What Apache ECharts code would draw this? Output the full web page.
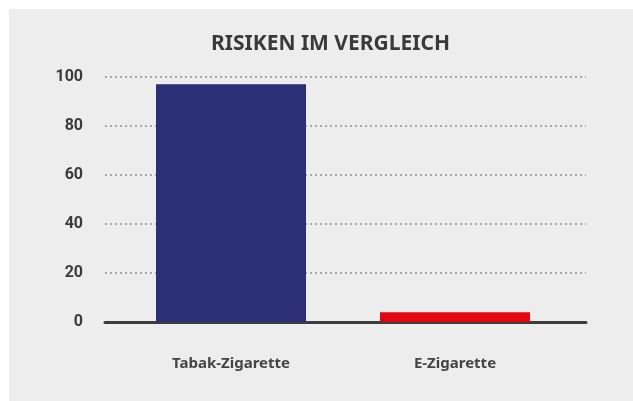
<!DOCTYPE html>
<html>
<head>
<meta charset="utf-8">
<script src="https://cdn.jsdelivr.net/npm/echarts@6/dist/echarts.min.js"></script>
<style>
  html, body { margin: 0; padding: 0; background: #ededed; }
  #main { width: 633px; height: 401px; }
</style>
</head>
<body>
<div id="main"></div>
<script>
// Daten
var categories = ['Tabak-Zigarette', 'E-Zigarette']
var risiko = [97, 4]
var barColors = ['#2a2f76', '#e30613']
var yTicks = [0, 20, 40, 60, 80, 100]

var myChart = echarts.init(document.getElementById('main'))

myChart.setOption({
  backgroundColor: '#ededed',
  animation: false,
  // weisser Rand oben und links
  graphic: [
    { type: 'rect', left: 0, top: 0, z: -10, shape: { width: 633, height: 9 }, style: { fill: '#fff' } },
    { type: 'rect', left: 0, top: 0, z: -10, shape: { width: 9, height: 401 }, style: { fill: '#fff' } }
  ],
  title: {
    text: 'RISIKEN IM VERGLEICH',
    left: 206,
    top: 29,
    textStyle: {
      color: '#3a3a3a',
      fontFamily: 'Noto Sans',
      fontWeight: 'bold',
      fontSize: 21
    }
  },
  grid: [
    // breites Gitter: Hilfslinien + Achse
    { left: 105, right: 47, top: 77, bottom: 79 },
    // schmaleres Gitter: Balken + Kategorien
    { left: 119, right: 66, top: 77, bottom: 79 }
  ],
  xAxis: [
    {
      gridIndex: 0,
      type: 'category',
      data: categories,
      axisTick: { show: false },
      axisLabel: { show: false },
      axisLine: { lineStyle: { color: '#3d3d3d', width: 3 } }
    },
    {
      gridIndex: 1,
      type: 'category',
      data: categories,
      axisTick: { show: false },
      axisLine: { show: false },
      axisLabel: {
        margin: 34,
        color: '#444',
        fontFamily: 'Noto Sans',
        fontWeight: 'bold',
        fontSize: 15
      }
    }
  ],
  yAxis: [
    {
      gridIndex: 0,
      type: 'value',
      min: yTicks[0],
      max: yTicks[yTicks.length - 1],
      interval: 20,
      axisLine: { show: false },
      axisTick: { show: false },
      splitLine: {
        show: true,
        lineStyle: { type: [2, 3], color: '#a8a8a8', width: 2 }
      },
      axisLabel: {
        margin: 22,
        color: '#3a3a3a',
        fontFamily: 'Roboto',
        fontWeight: 'bold',
        fontSize: 16
      }
    },
    {
      gridIndex: 1,
      type: 'value',
      min: yTicks[0],
      max: yTicks[yTicks.length - 1],
      interval: 20,
      show: false
    }
  ],
  series: [{
    type: 'bar',
    xAxisIndex: 1,
    yAxisIndex: 1,
    barWidth: 150,
    z: 5,
    data: risiko.map(function (v, i) {
      return { value: v, itemStyle: { color: barColors[i] } }
    })
  }]
})
</script>
</body>
</html>
